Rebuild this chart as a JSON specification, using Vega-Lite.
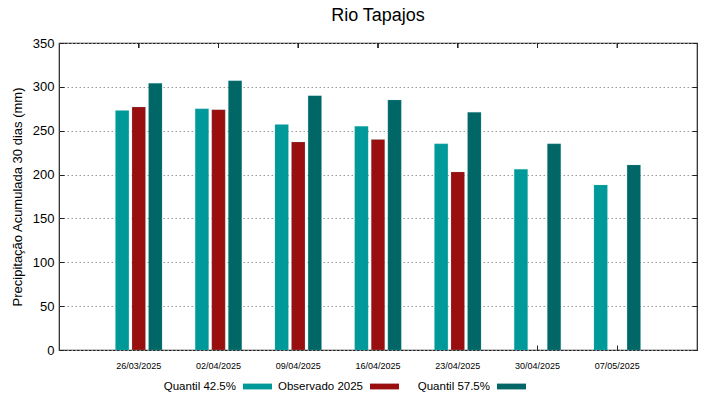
{
  "$schema": "https://vega.github.io/schema/vega-lite/v6.json",
  "width": 638,
  "height": 307,
  "autosize": {"type": "none"},
  "padding": {"left": 59, "top": 43, "right": 22, "bottom": 49},
  "background": "white",
  "title": {"text": "Rio Tapajos", "font": "Liberation Sans", "fontSize": 18, "fontWeight": "normal", "color": "#000", "anchor": "middle", "offset": 12},
  "config": {
    "view": {"stroke": "#222", "strokeWidth": 1.2},
    "font": "Liberation Sans",
    "axis": {"labelFont": "Liberation Sans", "titleFont": "Liberation Sans", "labelColor": "#000", "titleColor": "#000", "domain": false, "tickColor": "#222", "ticks": true}
  },
  "data": {"values": [
    {"date": "26/03/2025", "series": "Quantil 42.5%", "value": 273},
    {"date": "26/03/2025", "series": "Observado 2025", "value": 277},
    {"date": "26/03/2025", "series": "Quantil 57.5%", "value": 304},
    {"date": "02/04/2025", "series": "Quantil 42.5%", "value": 275},
    {"date": "02/04/2025", "series": "Observado 2025", "value": 274},
    {"date": "02/04/2025", "series": "Quantil 57.5%", "value": 307},
    {"date": "09/04/2025", "series": "Quantil 42.5%", "value": 257},
    {"date": "09/04/2025", "series": "Observado 2025", "value": 237},
    {"date": "09/04/2025", "series": "Quantil 57.5%", "value": 290},
    {"date": "16/04/2025", "series": "Quantil 42.5%", "value": 255},
    {"date": "16/04/2025", "series": "Observado 2025", "value": 240},
    {"date": "16/04/2025", "series": "Quantil 57.5%", "value": 285},
    {"date": "23/04/2025", "series": "Quantil 42.5%", "value": 235},
    {"date": "23/04/2025", "series": "Observado 2025", "value": 203},
    {"date": "23/04/2025", "series": "Quantil 57.5%", "value": 271},
    {"date": "30/04/2025", "series": "Quantil 42.5%", "value": 206},
    {"date": "30/04/2025", "series": "Quantil 57.5%", "value": 235},
    {"date": "07/05/2025", "series": "Quantil 42.5%", "value": 188},
    {"date": "07/05/2025", "series": "Quantil 57.5%", "value": 211}
  ]},
  "layer": [
    {
      "mark": {"type": "bar", "stroke": "#7fc8c8", "strokeWidth": 0.5, "strokeOpacity": 0.4},
      "encoding": {
        "x": {
          "field": "date", "type": "ordinal", "sort": null,
          "scale": {"paddingInner": 0, "paddingOuter": 0.5},
          "axis": {"orient": "bottom", "title": null, "labelAngle": 0, "labelFontSize": 9, "tickSize": -5, "labelPadding": 16, "grid": false}
        },
        "xOffset": {
          "field": "series", "type": "nominal",
          "scale": {"domain": ["Quantil 42.5%", "Observado 2025", "Quantil 57.5%"], "paddingInner": 0.1875, "paddingOuter": 1.086}
        },
        "y": {
          "field": "value", "type": "quantitative",
          "scale": {"domain": [0, 350], "nice": false},
          "axis": {"orient": "left", "title": "Precipitação Acumulada 30 dias (mm)", "titleFontSize": 13, "titleFontWeight": "normal", "titlePadding": 8, "labelFontSize": 13, "values": [0, 50, 100, 150, 200, 250, 300, 350], "tickSize": -5, "labelPadding": 10, "grid": true, "gridColor": "#999", "gridDash": [1.5, 2.5], "gridWidth": 1}
        },
        "color": {
          "field": "series", "type": "nominal",
          "scale": {"domain": ["Quantil 42.5%", "Observado 2025", "Quantil 57.5%"], "range": ["#009999", "#990f0f", "#006666"]},
          "legend": {
            "title": null, "orient": "none", "direction": "horizontal",
            "legendX": 184, "legendY": 329,
            "symbolType": "M-1,-0.2H1V0.2H-1Z", "symbolSize": 841, "symbolStrokeWidth": 0,
            "labelAlign": "right", "labelOffset": -36, "labelFontSize": 11.5, "labelFont": "Liberation Sans", "labelColor": "#000",
            "gridAlign": "all", "columnPadding": 5, "labelLimit": 200
          }
        }
      }
    },
    {
      "mark": {"type": "rule", "color": "#222", "strokeWidth": 1},
      "encoding": {
        "x": {"field": "date", "type": "ordinal", "sort": null},
        "y": {"datum": 350, "type": "quantitative", "axis": {"orient": "right", "title": null, "labels": false, "values": [0, 50, 100, 150, 200, 250, 300, 350], "tickSize": -5, "grid": false}},
        "y2": {"datum": 344.3}
      }
    }
  ],
  "resolve": {"axis": {"y": "independent"}}
}
